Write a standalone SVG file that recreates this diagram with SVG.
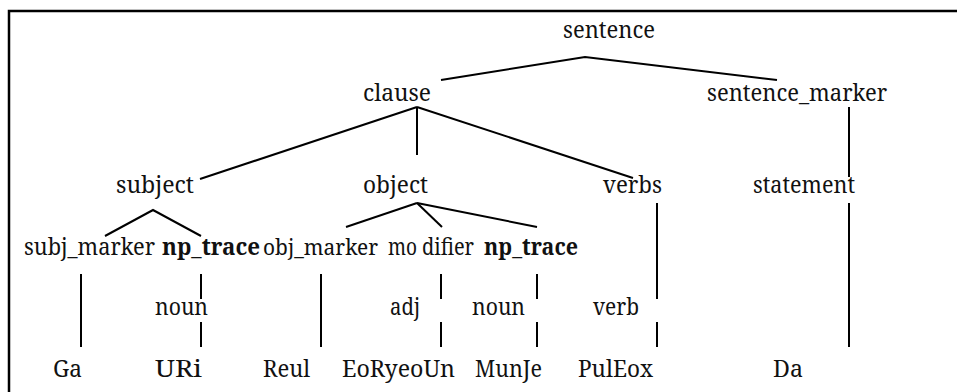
<svg xmlns="http://www.w3.org/2000/svg" width="957" height="392" viewBox="0 0 957 392">
<style>
  text { font-family: "Noto Serif", "DejaVu Serif", serif; font-size: 24px; fill: #111; }
  .b { font-weight: bold; }
  .ln { stroke: #000; stroke-width: 2; fill: none; }
  .frame { stroke: #000; stroke-width: 2.5; fill: none; }
</style>
<rect width="957" height="392" fill="#fff"/>
<path class="frame" d="M9,392 V11 H957"/>
<g id="connectors">
  <polyline class="ln" points="441,80 585,57 777,80"/>
  <line class="ln" x1="417" y1="107" x2="200" y2="179"/>
  <line class="ln" x1="417" y1="107" x2="417" y2="155"/>
  <line class="ln" x1="417" y1="107" x2="633" y2="178"/>
  <line class="ln" x1="849" y1="107" x2="849" y2="177"/>
  <line class="ln" x1="849" y1="203" x2="849" y2="347"/>
  <polyline class="ln" points="105,236 153,210 201,236"/>
  <line class="ln" x1="417" y1="203" x2="346" y2="227"/>
  <line class="ln" x1="417" y1="203" x2="442" y2="227"/>
  <line class="ln" x1="417" y1="203" x2="537" y2="227"/>
  <line class="ln" x1="657" y1="203" x2="657" y2="299"/>
  <line class="ln" x1="657" y1="322" x2="657" y2="347"/>
  <line class="ln" x1="81" y1="274" x2="81" y2="347"/>
  <line class="ln" x1="201" y1="274" x2="201" y2="299"/>
  <line class="ln" x1="201" y1="322" x2="201" y2="347"/>
  <line class="ln" x1="321" y1="274" x2="321" y2="347"/>
  <line class="ln" x1="441" y1="274" x2="441" y2="299"/>
  <line class="ln" x1="441" y1="322" x2="441" y2="347"/>
  <line class="ln" x1="537" y1="274" x2="537" y2="299"/>
  <line class="ln" x1="537" y1="322" x2="537" y2="347"/>
</g>
<g id="sentence"><text x="563" y="38" textLength="92" lengthAdjust="spacingAndGlyphs">sentence</text></g>
<g id="clause"><text x="363" y="101" textLength="68" lengthAdjust="spacingAndGlyphs">clause</text></g>
<g id="sentence_marker"><text x="707" y="101" textLength="180" lengthAdjust="spacingAndGlyphs">sentence_marker</text></g>
<g id="subject"><text x="116" y="193" textLength="78" lengthAdjust="spacingAndGlyphs">subject</text></g>
<g id="object"><text x="363" y="193" textLength="65" lengthAdjust="spacingAndGlyphs">object</text></g>
<g id="verbs"><text x="603" y="193" textLength="59" lengthAdjust="spacingAndGlyphs">verbs</text></g>
<g id="statement"><text x="753" y="193" textLength="102" lengthAdjust="spacingAndGlyphs">statement</text></g>
<g id="subj_marker"><text x="24" y="255" textLength="131" lengthAdjust="spacingAndGlyphs">subj_marker</text></g>
<g id="np_trace1"><text class="b" x="162" y="255" textLength="98" lengthAdjust="spacingAndGlyphs">np_trace</text></g>
<g id="obj_marker"><text x="263" y="255" font-size="22" style="font-size:22px" textLength="115" lengthAdjust="spacingAndGlyphs">obj_marker</text></g>
<g id="modifier"><text x="388" y="255" textLength="29" lengthAdjust="spacingAndGlyphs">mo</text><text x="422" y="255" textLength="52" lengthAdjust="spacingAndGlyphs">difier</text></g>
<g id="np_trace2"><text class="b" x="484" y="255" textLength="94" lengthAdjust="spacingAndGlyphs">np_trace</text></g>
<g id="noun1"><text x="155" y="315" textLength="53" lengthAdjust="spacingAndGlyphs">noun</text></g>
<g id="adj"><text x="390" y="315" textLength="30" lengthAdjust="spacingAndGlyphs">adj</text></g>
<g id="noun2"><text x="472" y="315" textLength="53" lengthAdjust="spacingAndGlyphs">noun</text></g>
<g id="verb"><text x="593" y="315" textLength="46" lengthAdjust="spacingAndGlyphs">verb</text></g>
<g id="Ga"><text x="53" y="377" textLength="29" lengthAdjust="spacingAndGlyphs">Ga</text></g>
<g id="URi"><text x="155" y="377" textLength="47" lengthAdjust="spacingAndGlyphs">URi</text></g>
<g id="Reul"><text x="263" y="377" textLength="47" lengthAdjust="spacingAndGlyphs">Reul</text></g>
<g id="EoRyeoUn"><text x="342" y="377" textLength="113" lengthAdjust="spacingAndGlyphs">EoRyeoUn</text></g>
<g id="MunJe"><text x="475" y="377" textLength="67" lengthAdjust="spacingAndGlyphs">MunJe</text></g>
<g id="PulEox"><text x="578" y="377" textLength="75" lengthAdjust="spacingAndGlyphs">PulEox</text></g>
<g id="Da"><text x="773" y="377" textLength="30" lengthAdjust="spacingAndGlyphs">Da</text></g>
</svg>
